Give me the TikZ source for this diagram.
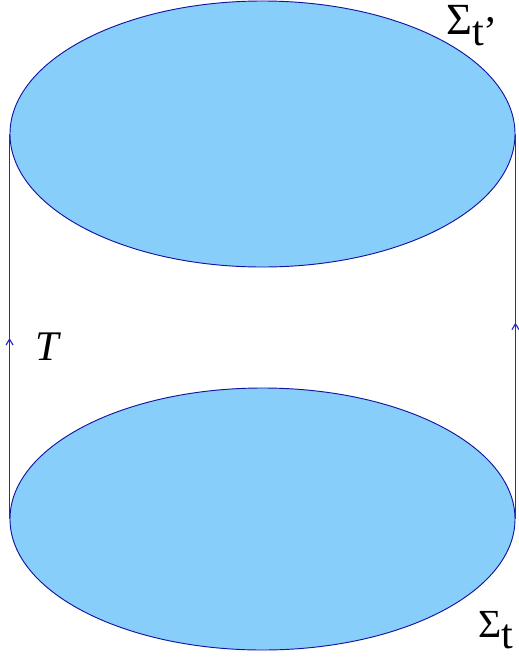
\documentclass[tikz,border=0pt]{standalone}
\usepackage{fontspec}
\setmainfont{Liberation Serif}
\usetikzlibrary{shapes.geometric,arrows.meta,decorations.markings}
\definecolor{diskfill}{HTML}{87CEFA}
\definecolor{diskline}{RGB}{20,20,160}
\definecolor{sideline}{RGB}{40,40,200}
\tikzset{
  disk/.style={ellipse, draw=diskline, fill=diskfill, line width=0.8pt, inner sep=0pt},
  side/.style={sideline, line width=1.1pt},
  midarrow/.style={postaction={decorate}, decoration={markings,
    mark=at position #1 with {\arrow{Straight Barb[length=5pt,width=6pt,line width=1pt]}}}},
  lbl/.style={inner sep=0pt}
}
\begin{document}
\begin{tikzpicture}[x=0.03cm, y=-0.03cm]
\useasboundingbox (0,0) rectangle (518,665);

% the two slices
\node[disk, minimum width=15.15cm, minimum height=7.98cm] (upper) at (262.5,134) {};
\node[disk, minimum width=15.15cm, minimum height=7.86cm] (lower) at (262.5,519) {};

% sides of the cylinder
\draw[side, midarrow=0.47] (lower.west) -- (upper.west);
\draw[side, midarrow=0.51] (lower.east) -- (upper.east);

% labels
\node[lbl, anchor=base west] (sigtop) at (446,34) {\fontsize{38}{42}\selectfont Σ\raisebox{-10pt}{\fontsize{36}{40}\selectfont t’}};
\node[lbl, anchor=base west] (sigbot) at (478,637) {\fontsize{34}{38}\selectfont Σ\raisebox{-10pt}{\fontsize{36}{40}\selectfont t}};
\node[lbl] (tlab) at (47,347) {\fontsize{36}{40}\selectfont\itshape T};
\end{tikzpicture}
\end{document}
